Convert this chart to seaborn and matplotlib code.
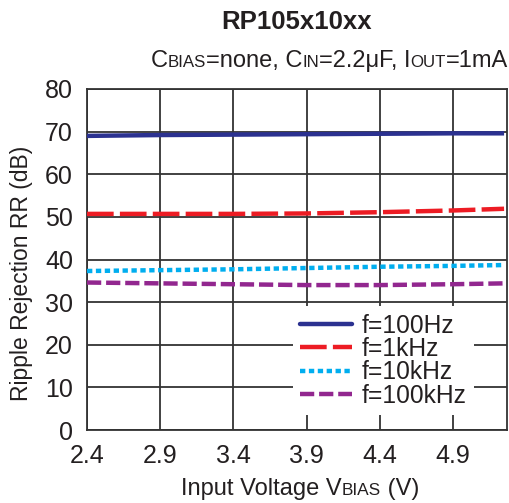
import matplotlib
matplotlib.use("Agg")
import matplotlib.pyplot as plt
import seaborn as sns
import pandas as pd
from matplotlib.lines import Line2D

# ---- data ----
vbias = [2.4, 2.9, 3.4, 3.9, 4.4, 4.9, 5.25]
rr_100hz = [69.0, 69.2, 69.3, 69.4, 69.5, 69.6, 69.6]
rr_1khz = [50.7, 50.7, 50.7, 50.8, 51.1, 51.5, 51.9]
rr_10khz = [37.3, 37.5, 37.7, 38.0, 38.3, 38.5, 38.7]
rr_100khz = [34.6, 34.4, 34.2, 34.0, 34.0, 34.2, 34.4]
series_labels = ["f=100Hz", "f=1kHz", "f=10kHz", "f=100kHz"]
xticks = [2.4, 2.9, 3.4, 3.9, 4.4, 4.9]
yticks = [0, 10, 20, 30, 40, 50, 60, 70, 80]

colors = ["#2B3190", "#ED1C24", "#00AEEF", "#92278F"]
dash_styles = [(None, None), (6, 1.4), (1.2, 0.8), (3.2, 1.1)]

rows = []
for lab, vals in zip(series_labels, [rr_100hz, rr_1khz, rr_10khz, rr_100khz]):
    for v, r in zip(vbias, vals):
        rows.append({"V": v, "RR": r, "f": lab})
df = pd.DataFrame(rows)

sns.set_theme(style="white")
plt.rcParams["font.family"] = ["Liberation Sans", "DejaVu Sans"]

W, H = 509, 503
TXT = "#231F20"
fig = plt.figure(figsize=(W / 100, H / 100), dpi=100)
ax = fig.add_axes([87 / W, (H - 430) / H, (507 - 87) / W, (430 - 89) / H])

grid_c = "#333333"
ax.set_xlim(2.4, 5.27)
ax.set_ylim(0, 80)
ax.set_xticks(xticks)
ax.set_yticks(yticks)
ax.set_xticklabels([f"{t:.1f}" for t in xticks])
ax.grid(True, color=grid_c, linewidth=1.3, zorder=0)
ax.set_axisbelow(True)
for s in ax.spines.values():
    s.set_color(grid_c)
    s.set_linewidth(1.3)
ax.tick_params(axis="both", length=0, labelsize=18, colors=TXT)
ax.tick_params(axis="x", pad=10)
ax.tick_params(axis="y", pad=10)

for lab, c, d in zip(series_labels, colors, dash_styles):
    sub = df[df["f"] == lab]
    sns.lineplot(data=sub, x="V", y="RR", ax=ax, color=c, linewidth=3.2,
                 legend=False, zorder=3)
    ln = ax.lines[-1]
    if d[0] is not None:
        ln.set_dashes(d)
    ln.set_solid_capstyle("butt")
    ln.set_dash_capstyle("butt")

ax.set_xlabel("")
ax.set_ylabel("Ripple Rejection RR (dB)", fontsize=16.5, color=TXT)
ax.yaxis.set_label_coords(-0.128, 0.46)

handles = []
for c, d in zip(colors, dash_styles):
    h = Line2D([0], [0], color=c, linewidth=3.2)
    if d[0] is not None:
        h.set_dashes(d)
    h.set_dash_capstyle("butt")
    handles.append(h)
leg = ax.legend(handles, series_labels, loc="lower left", bbox_to_anchor=(0.49, 0.044),
                frameon=True, facecolor="white", edgecolor="none", framealpha=1,
                fontsize=17.7, handlelength=2.1, handletextpad=0.4, labelspacing=-0.03,
                borderpad=0.3, borderaxespad=0, fancybox=False)
for t in leg.get_texts():
    t.set_color(TXT)
leg.set_zorder(5)

# title
fig.text(297 / W, (H - 22) / H, "RP105x10xx", ha="center", va="center",
         fontsize=18.5, fontweight="bold", color=TXT)

renderer = fig.canvas.get_renderer()


def mixed_text(segments, x_px, y_px, align="left"):
    widths = []
    for s, fs in segments:
        t = fig.text(0, 0, s, fontsize=fs)
        bb = t.get_window_extent(renderer)
        widths.append(bb.width)
        t.remove()
    total = sum(widths)
    if align == "right":
        x = x_px - total
    elif align == "center":
        x = x_px - total / 2
    else:
        x = x_px
    for (s, fs), w in zip(segments, widths):
        fig.text(x / W, (H - y_px) / H, s, fontsize=fs, ha="left", va="baseline",
                 color=TXT)
        x += w


big, small = 17, 12.2
mixed_text([("C", big), ("BIAS", small), ("=none, C", big), ("IN", small),
            ("=2.2μF, I", big), ("OUT", small), ("=1mA", big)], 508, 67, align="right")
mixed_text([("Input Voltage V", 17), ("BIAS", 12.4), (" (V)", 17)], 300, 495, align="center")

fig.savefig("out.png", dpi=100, facecolor="white")
